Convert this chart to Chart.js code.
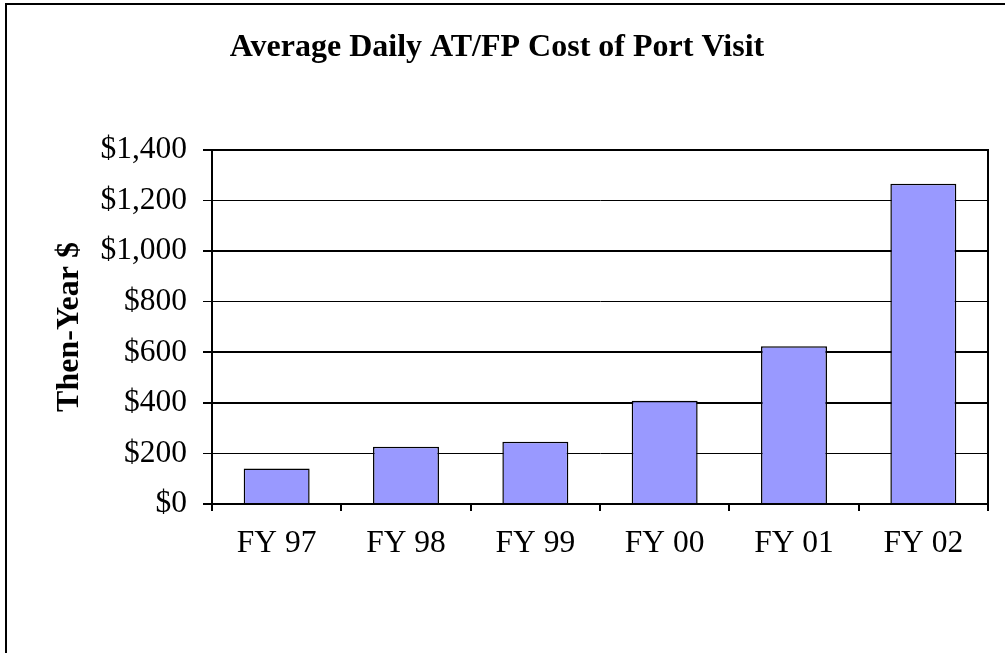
<!DOCTYPE html>
<html>
<head>
<meta charset="utf-8">
<script src="https://cdn.jsdelivr.net/npm/chart.js@4.4.0/dist/chart.umd.min.js"></script>
<style>
  html, body { margin: 0; padding: 0; background: #fff; }
  #wrap { width: 1005px; height: 653px; }
</style>
</head>
<body>
<div id="wrap"><canvas id="chart"></canvas></div>
<script>
// values
const years = ['FY 97', 'FY 98', 'FY 99', 'FY 00', 'FY 01', 'FY 02'];
const dailyCost = [140, 226, 246, 408, 624, 1267];
const yTicks = [0, 200, 400, 600, 800, 1000, 1200, 1400];
const thinGrid = [200, 800, 1200];

const serif = '"Liberation Serif", "Times New Roman", serif';

// frame round the picture and the box round the plot
const framePlugin = {
  id: 'frame',
  beforeDraw(chart) {
    const ctx = chart.ctx;
    ctx.save();
    ctx.strokeStyle = '#000';
    ctx.lineWidth = 2;
    ctx.beginPath();
    ctx.moveTo(6, chart.height);
    ctx.lineTo(6, 4);
    ctx.lineTo(chart.width, 4);
    ctx.stroke();
    ctx.restore();
  },
  afterDraw(chart) {
    const a = chart.chartArea;
    const ctx = chart.ctx;
    ctx.save();
    ctx.strokeStyle = '#000';
    ctx.lineWidth = 2;
    ctx.beginPath();
    ctx.moveTo(a.left, a.top);
    ctx.lineTo(a.right, a.top);
    ctx.lineTo(a.right, a.bottom);
    ctx.stroke();
    ctx.restore();
  }
};

new Chart(document.getElementById('chart').getContext('2d'), {
  type: 'bar',
  data: {
    labels: years,
    datasets: [{
      label: 'Then-Year $',
      data: dailyCost,
      backgroundColor: '#9999FF',
      borderColor: '#000',
      borderWidth: 1.5,
      barPercentage: 0.51,
      categoryPercentage: 1
    }]
  },
  options: {
    responsive: true,
    maintainAspectRatio: false,
    animation: false,
    layout: { padding: { left: 6, right: 17, top: 0, bottom: 89 } },
    plugins: {
      legend: { display: false },
      tooltip: { enabled: false },
      title: {
        display: true,
        text: 'Average Daily AT/FP Cost of Port Visit',
        color: '#000',
        font: { family: serif, size: 32, weight: 'bold', lineHeight: 1.2 },
        padding: { top: 29, bottom: 82.6 }
      }
    },
    scales: {
      x: {
        afterFit: s => { s.height = 60; },
        border: { color: '#000', width: 2 },
        grid: {
          offset: true,
          drawOnChartArea: false,
          color: '#000',
          lineWidth: 2,
          tickLength: 7
        },
        ticks: {
          color: '#000',
          padding: 14,
          font: { family: serif, size: 31.5 }
        }
      },
      y: {
        min: 0,
        max: 1400,
        afterFit: s => { s.width = 206; },
        afterBuildTicks: s => { s.ticks = yTicks.map(v => ({ value: v })); },
        border: { color: '#000', width: 2 },
        grid: {
          color: '#000',
          lineWidth: c => thinGrid.includes(c.tick && c.tick.value) ? 1 : 2,
          tickLength: 9
        },
        ticks: {
          color: '#000',
          padding: 16,
          font: { family: serif, size: 31.5 },
          callback: v => '$' + v.toLocaleString('en-US')
        },
        title: {
          display: true,
          text: 'Then-Year $',
          color: '#000',
          font: { family: serif, size: 32, weight: 'bold', lineHeight: 1.2 },
          padding: { top: 45, bottom: 0 }
        }
      }
    }
  },
  plugins: [framePlugin]
});
</script>
</body>
</html>
